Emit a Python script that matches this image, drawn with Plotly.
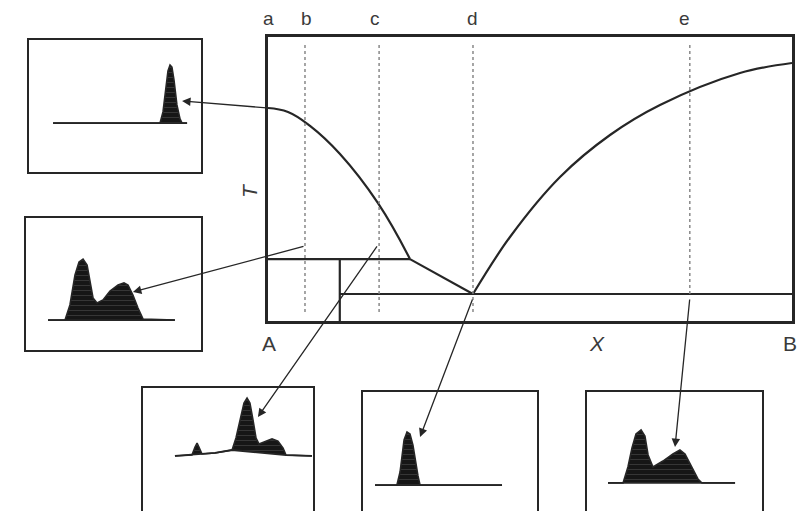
import plotly.graph_objects as go

W, H = 810, 511

# ---- Binary phase diagram A-B (X: mole fraction of B, T: normalised temperature) ----
liqA_x = [0.0, 0.0382, 0.0802, 0.1374, 0.2099, 0.2710]
liqA_t = [0.750, 0.736, 0.687, 0.588, 0.415, 0.218]
liqC_x = [0.2710, 0.3912]
liqC_t = [0.218, 0.095]
liqB_x = [0.3912, 0.4618, 0.5573, 0.6527, 0.7481, 0.9008, 1.0]
liqB_t = [0.095, 0.2958, 0.5070, 0.6549, 0.7606, 0.8732, 0.9085]
T_peritectic = 0.218
T_eutectic = 0.095
X_compound = 0.137

# Composition sections and their labels
section_labels = ["a", "b", "c", "d", "e"]
section_x = [0.0, 0.0706, 0.212, 0.3912, 0.805]
section_top = [None, 0.979, 0.979, 0.979, 0.979]
section_bottom = [None, 0.032, 0.032, 0.032, T_eutectic]

# ---- Thermograms for each section (time %, signal % of inset frame) ----
sig_a_t = [14.0, 76.2, 77.9, 79.7, 80.8, 82.0, 83.1, 84.3, 86.0, 87.8, 89.0, 91.9]
sig_a_h = [37.1, 37.1, 45.5, 63.6, 76.5, 81.1, 79.5, 69.7, 50.8, 40.2, 37.1, 37.1]
base_a_t = [14.0, 91.9]
base_a_h = [37.1, 37.1]

sig_b_t = [12.6, 22.3, 25.1, 28.0, 30.3, 32.6, 34.9, 36.6, 38.3, 40.6, 44.0, 48.0,
           52.6, 56.0, 58.3, 61.1, 64.0, 66.9, 85.1]
sig_b_h = [22.7, 22.7, 34.1, 56.8, 66.7, 68.9, 64.4, 53.0, 39.4, 35.6, 37.9, 44.7,
           49.2, 50.8, 49.2, 41.7, 31.8, 23.5, 22.7]
base_b_t = [12.6, 85.1]
base_b_h = [22.7, 22.7]

sig_c_t = [18.8, 28.8, 30.6, 31.8, 32.9, 34.7, 42.4, 52.4, 54.7, 57.1, 59.4, 61.2,
           62.9, 64.7, 66.5, 68.2, 71.8, 75.9, 79.4, 82.4, 84.1, 99.4]
sig_c_h = [48.5, 49.2, 55.3, 58.3, 55.3, 50.0, 50.8, 53.0, 62.1, 75.8, 88.6, 92.4,
           88.6, 75.8, 62.1, 57.6, 59.1, 61.4, 59.8, 54.5, 49.2, 48.5]
base_c_t = [18.8, 42.4, 52.4, 84.1, 99.4]
base_c_h = [48.5, 50.8, 53.0, 49.2, 48.5]

sig_d_t = [6.9, 19.5, 21.3, 22.4, 23.6, 25.3, 27.0, 28.7, 29.9, 31.6, 32.8, 79.9]
sig_d_h = [29.5, 29.5, 39.4, 52.3, 63.6, 69.7, 68.2, 59.8, 48.5, 36.4, 29.5, 29.5]
base_d_t = [6.9, 79.9]
base_d_h = [29.5, 29.5]

sig_e_t = [12.0, 20.6, 23.4, 25.7, 28.0, 30.9, 33.1, 34.9, 37.7, 43.4, 49.1, 53.1,
           56.0, 60.0, 63.4, 65.7, 84.6]
sig_e_h = [31.1, 31.1, 43.2, 57.6, 68.2, 71.2, 66.7, 52.3, 43.2, 47.7, 53.0, 56.1,
           53.0, 43.2, 34.1, 31.1, 31.1]
base_e_t = [12.0, 84.6]
base_e_h = [31.1, 31.1]

# Arrows: point on the diagram -> point in the matching thermogram
arrow_tail_x = [0.0, 0.0706, 0.210, 0.3912, 0.805]
arrow_tail_t = [0.750, 0.264, 0.268, 0.081, 0.081]
arrow_head_t = [89.0, 61.1, 67.6, 32.8, 50.3]
arrow_head_h = [53.8, 43.9, 78.0, 65.9, 58.3]

INK = "#262626"
TEXT = "#3a3a3a"
FONT = "Liberation Sans, Arial, sans-serif"

# ---- Layout of the panels ----
main_dom_x = [268 / W, 792 / W]
main_dom_y = [1 - 321 / H, 1 - 37 / H]
main_rx, main_ry = [0, 1], [0, 1]

insets = [
    dict(dx=[29 / W, 201 / W], dy=[1 - 172 / H, 1 - 40 / H], ry=[0, 100], open_bottom=False,
         t=sig_a_t, h=sig_a_h, bt=base_a_t, bh=base_a_h),
    dict(dx=[26 / W, 201 / W], dy=[1 - 350 / H, 1 - 218 / H], ry=[0, 100], open_bottom=False,
         t=sig_b_t, h=sig_b_h, bt=base_b_t, bh=base_b_h),
    dict(dx=[143 / W, 313 / W], dy=[0, 1 - 388 / H], ry=[6.8, 100], open_bottom=True,
         t=sig_c_t, h=sig_c_h, bt=base_c_t, bh=base_c_h),
    dict(dx=[363 / W, 537 / W], dy=[0, 1 - 392 / H], ry=[9.85, 100], open_bottom=True,
         t=sig_d_t, h=sig_d_h, bt=base_d_t, bh=base_d_h),
    dict(dx=[587 / W, 762 / W], dy=[0, 1 - 392 / H], ry=[9.85, 100], open_bottom=True,
         t=sig_e_t, h=sig_e_h, bt=base_e_t, bh=base_e_h),
]


def to_px(dx, dy, rx, ry, x, y):
    fx = (x - rx[0]) / (rx[1] - rx[0])
    fy = (y - ry[0]) / (ry[1] - ry[0])
    return (dx[0] + fx * (dx[1] - dx[0])) * W, (1 - (dy[0] + fy * (dy[1] - dy[0]))) * H


fig = go.Figure()

# Diagram lines
line = dict(color=INK, width=2.2)
fig.add_trace(go.Scatter(x=liqA_x, y=liqA_t, mode="lines", line=dict(line, shape="spline", smoothing=1.2),
                         xaxis="x", yaxis="y"))
fig.add_trace(go.Scatter(x=liqC_x, y=liqC_t, mode="lines", line=line, xaxis="x", yaxis="y"))
fig.add_trace(go.Scatter(x=liqB_x, y=liqB_t, mode="lines", line=dict(line, shape="spline", smoothing=1.0),
                         xaxis="x", yaxis="y"))
fig.add_trace(go.Scatter(x=[0, liqA_x[-1]], y=[T_peritectic, T_peritectic], mode="lines", line=line,
                         xaxis="x", yaxis="y"))
fig.add_trace(go.Scatter(x=[X_compound, X_compound], y=[0, T_peritectic], mode="lines", line=line,
                         xaxis="x", yaxis="y"))
fig.add_trace(go.Scatter(x=[X_compound, 1], y=[T_eutectic, T_eutectic], mode="lines", line=line,
                         xaxis="x", yaxis="y"))

# Dotted composition sections
for sx, top, bot in zip(section_x, section_top, section_bottom):
    if top is None:
        continue
    fig.add_trace(go.Scatter(x=[sx, sx], y=[bot, top], mode="lines",
                             line=dict(color="#808080", width=1.4, dash="dot"),
                             xaxis="x", yaxis="y"))

# Thermogram insets
for i, ins in enumerate(insets):
    ax = str(i + 2)
    fig.add_trace(go.Scatter(x=ins["bt"], y=ins["bh"], mode="lines",
                             line=dict(color=INK, width=1.8), xaxis="x" + ax, yaxis="y" + ax))
    fig.add_trace(go.Scatter(x=ins["t"], y=ins["h"], mode="lines", fill="tonexty",
                             fillcolor="#161616",
                             fillpattern=dict(shape="-", bgcolor="#161616", fgcolor="#5e5e5e",
                                              size=5, solidity=0.18),
                             line=dict(color=INK, width=1.6), xaxis="x" + ax, yaxis="y" + ax))

layout = dict(
    width=W, height=H, margin=dict(l=0, r=0, t=0, b=0),
    paper_bgcolor="white", plot_bgcolor="white", showlegend=False,
    xaxis=dict(domain=main_dom_x, range=main_rx, showline=True, mirror=True, linecolor=INK,
               linewidth=2.5, showgrid=False, zeroline=False, showticklabels=False, ticks=""),
    yaxis=dict(domain=main_dom_y, range=main_ry, showline=True, mirror=True, linecolor=INK,
               linewidth=2.5, showgrid=False, zeroline=False, showticklabels=False, ticks=""),
)
for i, ins in enumerate(insets):
    n = str(i + 2)
    layout["xaxis" + n] = dict(domain=ins["dx"], range=[0, 100], anchor="y" + n,
                               side="top" if ins["open_bottom"] else "bottom",
                               showline=True, mirror=not ins["open_bottom"], linecolor=INK,
                               linewidth=2, showgrid=False, zeroline=False,
                               showticklabels=False, ticks="")
    layout["yaxis" + n] = dict(domain=ins["dy"], range=ins["ry"], anchor="x" + n,
                               showline=True, mirror=True, linecolor=INK, linewidth=2,
                               showgrid=False, zeroline=False, showticklabels=False, ticks="")
fig.update_layout(**layout)

annotations = []
# Section letters above the diagram
label_dx = [0, 2, -4, 0, -5]
for lab, sx, off in zip(section_labels, section_x, label_dx):
    px, _ = to_px(main_dom_x, main_dom_y, main_rx, main_ry, sx, 1)
    annotations.append(dict(x=(px + off) / W, y=1 - 18 / H, xref="paper", yref="paper", text=lab,
                            xanchor="center", yanchor="middle", showarrow=False,
                            font=dict(family=FONT, size=19, color=TEXT)))

# Axis labels
for txt, xx, yy, ang in [("A", 269, 343, 0), ("<i>X</i>", 597, 343, 0), ("B", 790, 343, 0),
                         ("<i>T</i>", 249, 191, -90)]:
    annotations.append(dict(x=xx / W, y=1 - yy / H, xref="paper", yref="paper", text=txt,
                            textangle=ang, xanchor="center", yanchor="middle", showarrow=False,
                            font=dict(family=FONT, size=21, color=TEXT)))

# Arrows from the diagram to the thermograms
for i, ins in enumerate(insets):
    tx, ty = to_px(main_dom_x, main_dom_y, main_rx, main_ry, arrow_tail_x[i], arrow_tail_t[i])
    hx, hy = to_px(ins["dx"], ins["dy"], [0, 100], ins["ry"], arrow_head_t[i], arrow_head_h[i])
    annotations.append(dict(x=hx / W, y=1 - hy / H, xref="paper", yref="paper", text="",
                            showarrow=True, ax=tx - hx, ay=ty - hy, arrowhead=2,
                            arrowsize=1.3, arrowwidth=1.3, arrowcolor=INK, standoff=0))

fig.update_layout(annotations=annotations)
fig.write_html("out.html")
